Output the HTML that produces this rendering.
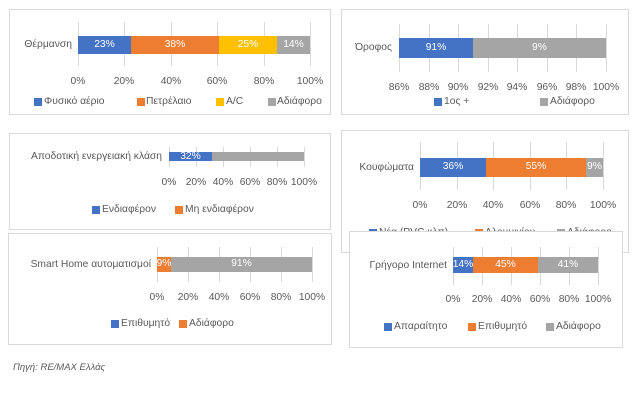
<!DOCTYPE html>
<html><head><meta charset="utf-8"><style>
body{margin:0;width:639px;height:407px;background:#fff;position:relative;overflow:hidden;font-family:"Liberation Sans","DejaVu Sans",sans-serif;font-size:10.3px;color:#595959}
div{position:absolute;box-sizing:border-box}
.box{border:1px solid #d9d9d9;background:#fff}
.g{width:1px;background:#d9d9d9}
.t{width:40px;margin-left:-20px;text-align:center;line-height:12px}
.s{line-height:12px;white-space:nowrap}
.sq{width:8px;height:8px}
.v{color:#fff;text-align:center;line-height:1;display:flex;align-items:center;justify-content:center;overflow:hidden}
.lab{text-align:right;line-height:12px;white-space:nowrap}
.B{background:#4472C4}.O{background:#ED7D31}.Y{background:#FFC000}.G{background:#A5A5A5}
</style></head><body>

<!-- Panel 1 -->
<div class="box" style="left:9px;top:9px;width:322px;height:106px"></div>
<div class="g" style="left:78px;top:22px;height:44px"></div>
<div class="g" style="left:124px;top:22px;height:44px"></div>
<div class="g" style="left:171px;top:22px;height:44px"></div>
<div class="g" style="left:217px;top:22px;height:44px"></div>
<div class="g" style="left:264px;top:22px;height:44px"></div>
<div class="g" style="left:310px;top:22px;height:44px"></div>
<div class="v B" style="left:78px;top:36px;width:53px;height:18px">23%</div>
<div class="v O" style="left:131px;top:36px;width:88px;height:18px">38%</div>
<div class="v Y" style="left:219px;top:36px;width:58px;height:18px">25%</div>
<div class="v G" style="left:277px;top:36px;width:33px;height:18px">14%</div>
<div class="lab" style="left:10px;width:62px;top:39px">Θέρμανση</div>
<div class="t" style="left:78px;top:76px">0%</div>
<div class="t" style="left:124px;top:76px">20%</div>
<div class="t" style="left:171px;top:76px">40%</div>
<div class="t" style="left:217px;top:76px">60%</div>
<div class="t" style="left:264px;top:76px">80%</div>
<div class="t" style="left:310px;top:76px">100%</div>
<div class="sq B" style="left:34px;top:98px"></div><div class="s" style="left:44px;top:96px">Φυσικό αέριο</div>
<div class="sq O" style="left:137px;top:98px"></div><div class="s" style="left:146px;top:96px">Πετρέλαιο</div>
<div class="sq Y" style="left:216px;top:98px"></div><div class="s" style="left:226px;top:96px">A/C</div>
<div class="sq G" style="left:268px;top:98px"></div><div class="s" style="left:277px;top:96px">Αδιάφορο</div>

<!-- Panel 2 -->
<div class="box" style="left:341px;top:9px;width:288px;height:106px"></div>
<div class="g" style="left:399px;top:24px;height:48px"></div>
<div class="g" style="left:429px;top:24px;height:48px"></div>
<div class="g" style="left:458px;top:24px;height:48px"></div>
<div class="g" style="left:488px;top:24px;height:48px"></div>
<div class="g" style="left:517px;top:24px;height:48px"></div>
<div class="g" style="left:547px;top:24px;height:48px"></div>
<div class="g" style="left:576px;top:24px;height:48px"></div>
<div class="g" style="left:606px;top:24px;height:48px"></div>
<div class="v B" style="left:399px;top:38px;width:74px;height:20px">91%</div>
<div class="v G" style="left:473px;top:38px;width:133px;height:20px">9%</div>
<div class="lab" style="left:340px;width:52px;top:42px">Όροφος</div>
<div class="t" style="left:399px;top:82px">86%</div>
<div class="t" style="left:429px;top:82px">88%</div>
<div class="t" style="left:458px;top:82px">90%</div>
<div class="t" style="left:488px;top:82px">92%</div>
<div class="t" style="left:517px;top:82px">94%</div>
<div class="t" style="left:547px;top:82px">96%</div>
<div class="t" style="left:576px;top:82px">98%</div>
<div class="t" style="left:606px;top:82px">100%</div>
<div class="sq B" style="left:434px;top:98px"></div><div class="s" style="left:444px;top:96px">1ος +</div>
<div class="sq G" style="left:540px;top:98px"></div><div class="s" style="left:550px;top:96px">Αδιάφορο</div>

<!-- Panel 3 -->
<div class="box" style="left:9px;top:133px;width:322px;height:97px"></div>
<div class="g" style="left:169px;top:147px;height:20px"></div>
<div class="g" style="left:196px;top:147px;height:20px"></div>
<div class="g" style="left:223px;top:147px;height:20px"></div>
<div class="g" style="left:250px;top:147px;height:20px"></div>
<div class="g" style="left:277px;top:147px;height:20px"></div>
<div class="g" style="left:304px;top:147px;height:20px"></div>
<div class="v B" style="left:169px;top:152px;width:43px;height:9px;align-items:flex-start">32%</div>
<div class="v G" style="left:212px;top:152px;width:92px;height:9px"></div>
<div class="lab" style="left:10px;width:152px;top:151px">Αποδοτική ενεργειακή κλάση</div>
<div class="t" style="left:169px;top:177px">0%</div>
<div class="t" style="left:196px;top:177px">20%</div>
<div class="t" style="left:223px;top:177px">40%</div>
<div class="t" style="left:250px;top:177px">60%</div>
<div class="t" style="left:277px;top:177px">80%</div>
<div class="t" style="left:304px;top:177px">100%</div>
<div class="sq B" style="left:92px;top:206px"></div><div class="s" style="left:102px;top:204px">Ενδιαφέρον</div>
<div class="sq O" style="left:175px;top:206px"></div><div class="s" style="left:185px;top:204px">Μη ενδιαφέρον</div>

<!-- Panel 4 -->
<div class="box" style="left:341px;top:130px;width:288px;height:123px"></div>
<div class="g" style="left:420px;top:142px;height:48px"></div>
<div class="g" style="left:457px;top:142px;height:48px"></div>
<div class="g" style="left:493px;top:142px;height:48px"></div>
<div class="g" style="left:530px;top:142px;height:48px"></div>
<div class="g" style="left:566px;top:142px;height:48px"></div>
<div class="g" style="left:603px;top:142px;height:48px"></div>
<div class="v B" style="left:420px;top:158px;width:66px;height:19px">36%</div>
<div class="v O" style="left:486px;top:158px;width:100px;height:19px">55%</div>
<div class="v G" style="left:586px;top:158px;width:17px;height:19px">9%</div>
<div class="lab" style="left:340px;width:74px;top:162px">Κουφώματα</div>
<div class="t" style="left:420px;top:200px">0%</div>
<div class="t" style="left:457px;top:200px">20%</div>
<div class="t" style="left:493px;top:200px">40%</div>
<div class="t" style="left:530px;top:200px">60%</div>
<div class="t" style="left:566px;top:200px">80%</div>
<div class="t" style="left:603px;top:200px">100%</div>
<div class="sq B" style="left:369px;top:229px"></div><div class="s" style="left:379px;top:227px">Νέα (PVC κλπ)</div>
<div class="sq O" style="left:475px;top:229px"></div><div class="s" style="left:485px;top:227px">Αλουμινίου</div>
<div class="sq G" style="left:557px;top:229px"></div><div class="s" style="left:567px;top:227px">Αδιάφορο</div>

<!-- Panel 5 -->
<div class="box" style="left:8px;top:233px;width:324px;height:112px"></div>
<div class="g" style="left:157px;top:247px;height:35px"></div>
<div class="g" style="left:188px;top:247px;height:35px"></div>
<div class="g" style="left:219px;top:247px;height:35px"></div>
<div class="g" style="left:250px;top:247px;height:35px"></div>
<div class="g" style="left:281px;top:247px;height:35px"></div>
<div class="g" style="left:312px;top:247px;height:35px"></div>
<div class="v O" style="left:157px;top:257px;width:14px;height:15px">9%</div>
<div class="v G" style="left:171px;top:257px;width:141px;height:15px">91%</div>
<div class="lab" style="left:10px;width:141px;top:259px">Smart Home αυτοματισμοί</div>
<div class="t" style="left:157px;top:292px">0%</div>
<div class="t" style="left:188px;top:292px">20%</div>
<div class="t" style="left:219px;top:292px">40%</div>
<div class="t" style="left:250px;top:292px">60%</div>
<div class="t" style="left:281px;top:292px">80%</div>
<div class="t" style="left:312px;top:292px">100%</div>
<div class="sq B" style="left:111px;top:320px"></div><div class="s" style="left:121px;top:318px">Επιθυμητό</div>
<div class="sq O" style="left:179px;top:320px"></div><div class="s" style="left:189px;top:318px">Αδιάφορο</div>

<!-- Panel 6 -->
<div class="box" style="left:349px;top:231px;width:274px;height:117px"></div>
<div class="g" style="left:453px;top:247px;height:38px"></div>
<div class="g" style="left:482px;top:247px;height:38px"></div>
<div class="g" style="left:511px;top:247px;height:38px"></div>
<div class="g" style="left:540px;top:247px;height:38px"></div>
<div class="g" style="left:569px;top:247px;height:38px"></div>
<div class="g" style="left:598px;top:247px;height:38px"></div>
<div class="v B" style="left:453px;top:257px;width:20px;height:16px">14%</div>
<div class="v O" style="left:473px;top:257px;width:65px;height:16px">45%</div>
<div class="v G" style="left:538px;top:257px;width:60px;height:16px">41%</div>
<div class="lab" style="left:350px;width:97px;top:260px">Γρήγορο Internet</div>
<div class="t" style="left:453px;top:294px">0%</div>
<div class="t" style="left:482px;top:294px">20%</div>
<div class="t" style="left:511px;top:294px">40%</div>
<div class="t" style="left:540px;top:294px">60%</div>
<div class="t" style="left:569px;top:294px">80%</div>
<div class="t" style="left:598px;top:294px">100%</div>
<div class="sq B" style="left:384px;top:323px"></div><div class="s" style="left:394px;top:321px">Απαραίτητο</div>
<div class="sq O" style="left:468px;top:323px"></div><div class="s" style="left:478px;top:321px">Επιθυμητό</div>
<div class="sq G" style="left:546px;top:323px"></div><div class="s" style="left:556px;top:321px">Αδιάφορο</div>

<div class="s" style="left:13px;top:362px;font-style:italic;font-size:9.5px">Πηγή: RE/MAX Ελλάς</div>
</body></html>
